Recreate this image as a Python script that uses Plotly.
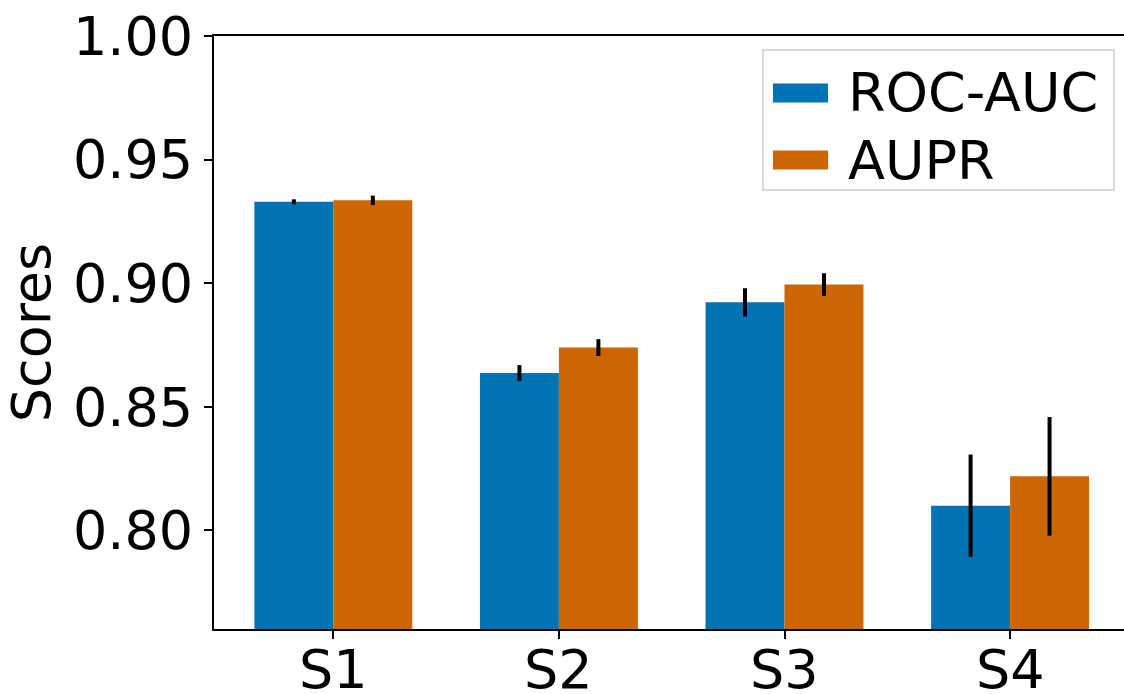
import plotly.graph_objects as go

categories = ["S1", "S2", "S3", "S4"]
roc_auc = [0.9329, 0.8636, 0.8922, 0.8099]
roc_auc_err = [0.0010, 0.0032, 0.0057, 0.0207]
aupr = [0.9335, 0.8739, 0.8994, 0.8218]
aupr_err = [0.0019, 0.0034, 0.0046, 0.0240]
y_ticks = [0.80, 0.85, 0.90, 0.95, 1.00]

BLUE = "#0173B2"
ORANGE = "#CC6503"
FONT = "DejaVu Sans"

xpos = list(range(len(categories)))

fig = go.Figure()
fig.add_trace(go.Bar(
    x=xpos, y=roc_auc, name="ROC-AUC", marker=dict(color=BLUE, line=dict(width=0)),
    error_y=dict(type="data", array=roc_auc_err, visible=True, color="black", thickness=4, width=0),
    showlegend=False,
))
fig.add_trace(go.Bar(
    x=xpos, y=aupr, name="AUPR", marker=dict(color=ORANGE, line=dict(width=0)),
    error_y=dict(type="data", array=aupr_err, visible=True, color="black", thickness=4, width=0),
    showlegend=False,
))

W, H = 1124, 694
ml, mr, mt, mb = 214, 0, 36, 65
pw, ph = W - ml - mr, H - mt - mb

def px_to_paper(x, y):
    return (x - ml) / pw, (H - mb - y) / ph

# custom legend (matplotlib-style)
shapes = []
annotations = []
x0, y0 = px_to_paper(763, 50)
x1, y1 = px_to_paper(1114, 190)
shapes.append(dict(type="rect", xref="paper", yref="paper", x0=x0, x1=x1, y0=y1, y1=y0,
                   line=dict(color="#CCCCCC", width=1.5), fillcolor="rgba(255,255,255,0.8)", layer="above"))
for (label, color, cy) in [("ROC-AUC", BLUE, 93), ("AUPR", ORANGE, 160)]:
    hx0, hy0 = px_to_paper(773, cy - 9.5)
    hx1, hy1 = px_to_paper(828, cy + 9.5)
    shapes.append(dict(type="rect", xref="paper", yref="paper", x0=hx0, x1=hx1, y0=hy1, y1=hy0,
                       line=dict(width=0), fillcolor=color, layer="above"))
    tx, ty = px_to_paper(846, cy)
    annotations.append(dict(text=label, xref="paper", yref="paper", x=tx, y=ty, xanchor="left",
                            yanchor="middle", showarrow=False, font=dict(family=FONT, size=54, color="black")))

# x tick labels (placed close to the axis, as in the reference)
for xv, lab in zip(xpos, categories):
    annotations.append(dict(text=lab, xref="x", yref="paper", x=xv, y=0, xanchor="center",
                            yanchor="middle", yshift=-40, showarrow=False,
                            font=dict(family=FONT, size=54, color="black")))

fig.update_layout(
    width=W, height=H,
    margin=dict(l=ml, r=mr, t=mt, b=mb, pad=0, autoexpand=False),
    paper_bgcolor="white", plot_bgcolor="white",
    barmode="group", bargap=0.3, bargroupgap=0,
    font=dict(family=FONT, size=54, color="black"),
    shapes=shapes, annotations=annotations,
)
fig.update_xaxes(
    range=[-0.529, 3.505], tickvals=xpos, ticktext=categories, showticklabels=False,
    showline=True, linecolor="black", linewidth=2, mirror=True,
    ticks="outside", ticklen=8, tickwidth=2, tickcolor="black",
    showgrid=False, zeroline=False, automargin=False,
)
fig.update_yaxes(
    range=[0.76, 1.0], tickvals=y_ticks, ticktext=[f"{v:.2f}" for v in y_ticks],
    showline=True, linecolor="black", linewidth=2, mirror=False,
    ticks="outside", ticklen=8, tickwidth=2, tickcolor="black",
    showgrid=False, zeroline=False, tickfont=dict(size=54), automargin=False,
    title=dict(text="Scores", font=dict(size=54), standoff=20),
)

fig.write_html("out.html")
